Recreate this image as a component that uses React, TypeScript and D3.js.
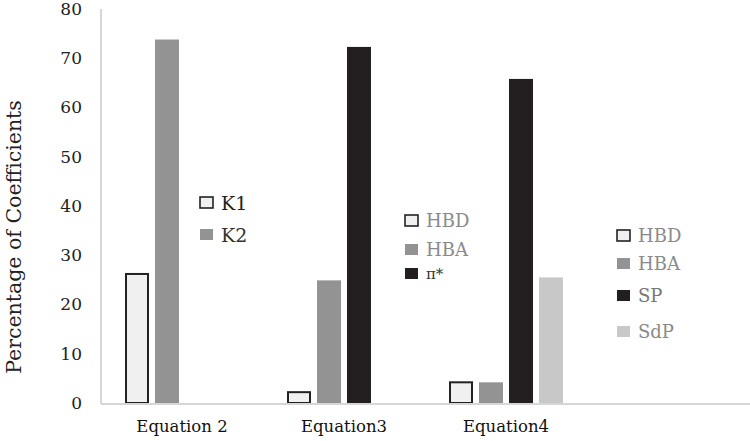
import React from "react";
import * as d3 from "d3";

const categories = ["Equation 2", "Equation3", "Equation4", ""];
const eq2Names = ["K1", "K2"];
const eq2Values = [26.2, 73.8];
const eq3Names = ["HBD", "HBA", "\u03c0*"];
const eq3Values = [2.2, 24.9, 72.3];
const eq4Names = ["HBD", "HBA", "SP", "SdP"];
const eq4Values = [4.2, 4.2, 65.8, 25.5];
const yTicks = [0, 10, 20, 30, 40, 50, 60, 70, 80];

const fills = ["#f0f0f0", "#939393", "#231f20", "#c8c8c8"];
const groups = [
  {cat: categories[0], names: eq2Names, values: eq2Values},
  {cat: categories[1], names: eq3Names, values: eq3Values},
  {cat: categories[2], names: eq4Names, values: eq4Values},
];

const W = 750;
const H = 441;
const left = 101;
const right = 749;
const top = 9;
const bottom = 403;
const font = "'DejaVu Serif', serif";

function Legend({x, y, names, gaps, textColors, sizes}) {
  let cy = y;
  return (
    <g>
      {names.map((n, i) => {
        const yy = cy;
        cy += gaps[i] || 0;
        return (
          <g key={n + i} transform={`translate(${x},${yy})`}>
            <rect x={0} y={-6} width={13} height={11}
              fill={fills[i]} stroke={i === 0 ? "#222" : "none"} strokeWidth={1.6} />
            <text x={21} y={0} dy="0.35em" fontFamily={font} fontSize={sizes[i]}
              fill={textColors[i]}>{n}</text>
          </g>
        );
      })}
    </g>
  );
}

export default function App() {
  const x = d3.scaleBand().domain(categories).range([left, right]);
  const inner = d3.scaleBand().domain(d3.range(4)).range([0, x.bandwidth()])
    .paddingOuter(0.8).paddingInner(0.2);
  const y = d3.scaleLinear().domain([0, 80]).range([bottom, top]);

  return (
    <svg width={W} height={H} style={{position: "absolute", left: 0, top: 0, background: "#fff"}}>
      {groups.map(g => (
        <g key={g.cat} transform={`translate(${x(g.cat)},0)`}>
          {g.values.map((v, i) => (
            <rect key={i}
              x={inner(i) + (i === 0 ? 1 : 0)}
              y={y(v)}
              width={inner.bandwidth() - (i === 0 ? 2 : 0)}
              height={y(0) - y(v)}
              fill={fills[i]}
              stroke={i === 0 ? "#222" : "none"}
              strokeWidth={2} />
          ))}
          <text x={x.bandwidth() / 2} y={432} textAnchor="middle"
            fontFamily={font} fontSize={16.5} fill="#111">{g.cat}</text>
        </g>
      ))}
      <line x1={left} x2={left} y1={top} y2={bottom + 1} stroke="#d6d6d6" strokeWidth={2} />
      <line x1={left} x2={W} y1={bottom + 1} y2={bottom + 1} stroke="#d6d6d6" strokeWidth={2} />
      {yTicks.map(t => (
        <text key={t} x={82} y={y(t)} dy="0.35em" textAnchor="end"
          fontFamily={font} fontSize={17} fill="#222">{t}</text>
      ))}
      <text transform={`translate(21,${237}) rotate(-90)`} textAnchor="middle"
        fontFamily={font} fontSize={20.5} fill="#222">Percentage of Coefficients</text>
      <Legend x={200} y={203} names={eq2Names} gaps={[32]} sizes={[19, 19]}
        textColors={["#222", "#333"]} />
      <Legend x={405} y={221} names={eq3Names} gaps={[29, 24]} sizes={[18, 18, 15]}
        textColors={["#8a8a8a", "#8a8a8a", "#333"]} />
      <Legend x={617} y={236} names={eq4Names} gaps={[28, 32, 36]} sizes={[18, 18, 18, 18]}
        textColors={["#8a8a8a", "#8a8a8a", "#777", "#8a8a8a"]} />
    </svg>
  );
}
